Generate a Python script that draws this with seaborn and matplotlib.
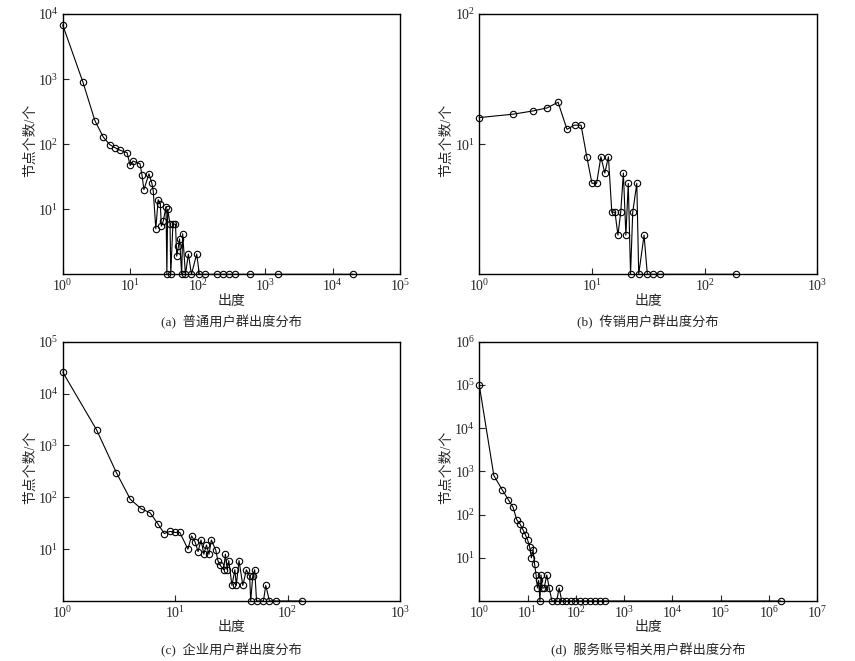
import numpy as np
import pandas as pd
import seaborn as sns
import matplotlib
matplotlib.use("Agg")
import matplotlib.pyplot as plt
from matplotlib.ticker import LogFormatterMathtext, NullLocator, FixedLocator

# ---------------- data ----------------
xa = [1, 2, 3, 4, 5, 6, 7, 9, 10, 11, 14, 15, 16, 19, 21, 22, 24, 26, 28, 29, 31, 34, 35, 36,
      39, 40, 43, 47, 49, 52, 54, 58, 60, 66, 73, 81, 97, 106, 130, 196, 240, 293, 362, 588,
      1550, 20400]
ya = [6800, 890, 230, 128, 98, 88, 81, 74, 47, 55, 50, 33, 20, 35, 25, 19, 5, 14, 12, 5.5,
      6.6, 11, 1, 10, 5.9, 1, 5.9, 5.9, 1.9, 2.7, 3.5, 1, 4.2, 1, 2.05, 1, 2.05, 1, 1, 1, 1,
      1, 1, 1, 1, 1]

xb = [1, 2, 3, 4, 5, 6, 7, 8, 9, 10, 11, 12, 13, 14, 15, 16, 17, 18, 19, 20, 21, 22, 23, 25,
      26, 29, 31, 35, 40, 188]
yb = [16, 17, 18, 19, 21, 13, 14, 14, 8, 5, 5, 8, 6, 8, 3, 3, 2, 3, 6, 2, 5, 1, 3, 5, 1, 2,
      1, 1, 1, 1]

xc = [1, 2, 3, 4, 5, 6, 7, 8, 9, 10, 11, 13, 14, 15, 16, 17, 18, 19, 20, 21, 23, 24, 25, 27,
      28, 29, 30, 32, 34, 35, 37, 40, 43, 46, 47, 49, 51, 53, 61, 64, 69, 79, 134]
yc = [26000, 2000, 300, 91, 60, 50, 31, 20, 22, 21, 21, 10, 18, 14, 9, 15, 8, 12, 8, 15, 9.5,
      6, 5, 4, 8, 4, 6, 2, 4, 2, 6, 2, 4, 3, 1, 3, 4, 1, 1, 2, 1, 1, 1]

xd = [1, 2, 3, 4, 5, 6, 7, 8, 9, 10, 11, 12, 13, 14, 15, 16, 17, 18, 19, 20, 22, 25, 28, 32,
      40, 45, 51, 62, 78, 97, 122, 155, 195, 248, 315, 400, 1740000]
yd = [98000, 800, 370, 220, 147, 75, 60, 45, 34, 26, 18, 10, 15, 7, 4, 2, 3, 1, 4, 2, 2, 4, 2,
      1, 1, 2, 1, 1, 1, 1, 1, 1, 1, 1, 1, 1, 1]

captions = ["(a)  普通用户群出度分布", "(b)  传销用户群出度分布",
            "(c)  企业用户群出度分布", "(d)  服务账号相关用户群出度分布"]
xlabel_text = "出度"
ylabel_text = "节点个数/个"
x_max_exp = [5, 3, 3, 7]
y_max_exp = [4, 2, 5, 6]

# ---------------- style ----------------
sns.set_style("ticks")
plt.rcParams["font.family"] = ["Liberation Serif", "Noto Sans CJK SC"]
plt.rcParams["mathtext.fontset"] = "stix"

W, H = 855, 661
fig = plt.figure(figsize=(W / 100, H / 100), dpi=100)

# axes boxes in pixels: left, top, right, bottom
boxes = [(62.7, 14, 400, 274.3), (479.3, 14, 817.3, 274.3),
         (62.7, 341.7, 400, 601), (479.3, 341.7, 817.3, 601)]
xlab_y = [301, 301, 628, 628]
cap_y = [322, 322, 650, 650]
ylab_x = [31, 447, 31, 447]

datasets = [(xa, ya), (xb, yb), (xc, yc), (xd, yd)]

for i, ((x, y), (l, t, r, b)) in enumerate(zip(datasets, boxes)):
    ax = fig.add_axes([l / W, 1 - b / H, (r - l) / W, (b - t) / H])
    df = pd.DataFrame({"deg": x, "cnt": y})
    sns.lineplot(data=df, x="deg", y="cnt", ax=ax, estimator=None, sort=False,
                 color="black", linewidth=0.8, marker="o", markersize=4.6,
                 markerfacecolor="none", markeredgecolor="black",
                 markeredgewidth=0.8, clip_on=False)
    ax.set_xscale("log")
    ax.set_yscale("log")
    ax.set_xlim(1, 10 ** x_max_exp[i])
    ax.set_ylim(1, 10 ** y_max_exp[i])
    ax.xaxis.set_major_locator(FixedLocator(10.0 ** np.arange(0, x_max_exp[i] + 1)))
    ax.yaxis.set_major_locator(FixedLocator(10.0 ** np.arange(1, y_max_exp[i] + 1)))
    ax.xaxis.set_minor_locator(NullLocator())
    ax.yaxis.set_minor_locator(NullLocator())
    ax.xaxis.set_major_formatter(LogFormatterMathtext())
    ax.yaxis.set_major_formatter(LogFormatterMathtext())
    ax.tick_params(direction="in", length=4, width=0.8, labelsize=10,
                   top=False, right=False, pad=3)
    for s in ax.spines.values():
        s.set_linewidth(1.0)
        s.set_color("black")
    ax.set_xlabel("")
    ax.set_ylabel("")

    cx = (l + r) / 2
    fig.text(cx / W, 1 - xlab_y[i] / H, xlabel_text, ha="center", va="center",
             fontsize=10)
    fig.text(cx / W, 1 - cap_y[i] / H, captions[i], ha="center", va="center",
             fontsize=9.5)
    fig.text(ylab_x[i] / W, 1 - ((t + b) / 2 - 4) / H, ylabel_text, rotation=90,
             ha="center", va="center", fontsize=10)

fig.savefig("out.png", dpi=100, facecolor="white")
